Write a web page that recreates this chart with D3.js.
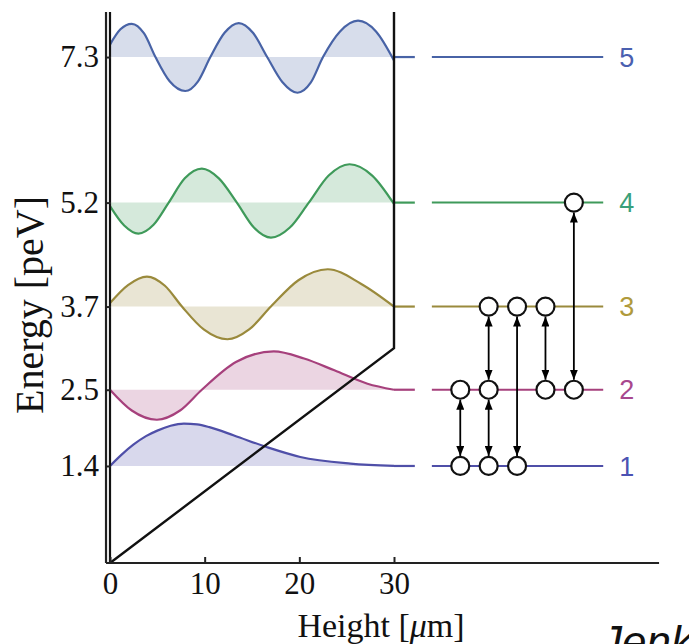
<!DOCTYPE html>
<html>
<head>
<meta charset="utf-8">
<script src="https://cdn.jsdelivr.net/npm/d3@7"></script>
<style>
  body { margin: 0; background: #fff; }
  .serif text, text.serif { font-family: "Liberation Serif", "Times New Roman", serif; }
</style>
</head>
<body>
<div id="chart"></div>
<script>
var width = 689
var height = 644

// energy levels [peV]
var levels = [1.4, 2.5, 3.7, 5.2, 7.3]
var levelLabels = ['1', '2', '3', '4', '5']

// wavefunction samples: [height in um, offset from level in peV]
var wave1 = [[0, 0], [1.2, 0.16], [2.5, 0.31], [3.8, 0.43], [5, 0.51], [6.4, 0.58], [7.8, 0.612], [9.2, 0.6], [10.5, 0.56], [13.1, 0.44], [16.6, 0.27], [20.1, 0.13], [25.4, 0.035], [30, 0]]
var wave2 = [[0, 0], [2.3, -0.3], [4.95, -0.433], [7.4, -0.3], [9.7, 0], [13.3, 0.4], [17.3, 0.553], [20.5, 0.45], [23.7, 0.28], [27.2, 0.087], [30, 0]]
var wave3 = [[0, 0.05], [1.9, 0.31], [3.9, 0.433], [5.8, 0.3], [7.6, 0], [9.9, -0.33], [12.4, -0.472], [14.7, -0.33], [17, 0], [19.9, 0.38], [23, 0.538], [26.5, 0.33], [30, 0]]
var wave4 = [[0, -0.05], [1.5, -0.33], [3, -0.447], [4.6, -0.32], [6.2, 0], [7.9, 0.35], [9.7, 0.49], [11.5, 0.35], [13.4, 0], [15.2, -0.36], [17, -0.505], [19, -0.36], [21, 0], [23.1, 0.39], [25.3, 0.553], [27.7, 0.39], [30, -0.02]]
var wave5 = [[0, 0.18], [1.1, 0.4], [2.3, 0.48], [3.6, 0.34], [4.8, 0], [6.3, -0.35], [7.95, -0.49], [9.3, -0.35], [10.6, 0], [12.1, 0.35], [13.6, 0.49], [15.1, 0.35], [16.6, 0], [18.2, -0.36], [19.8, -0.515], [21.2, -0.37], [22.5, 0], [24.3, 0.37], [26.2, 0.525], [28.1, 0.37], [30, -0.05]]
var waves = [wave1, wave2, wave3, wave4, wave5]

var xTicks = [0, 10, 20, 30]

// potential: linear gravity + walls at 0 and 30 um
var potential = [[0, 0], [30, 3.1], [30, 7.95]]

// occupied states on the right: [column in um, level number]
var stateCircles = [[37, 1], [40, 1], [43, 1], [37, 2], [40, 2], [46, 2], [49, 2], [40, 3], [43, 3], [46, 3], [49, 4]]
// transitions: [column in um, lower level, upper level]
var transitions = [[37, 1, 2], [40, 1, 2], [40, 2, 3], [43, 1, 3], [46, 2, 3], [49, 2, 4]]

var colors = ['#4f4fa8', '#a6407c', '#9a8a3c', '#3f9a5a', '#4863a6']
var labelColors = ['#4b52b3', '#a8478e', '#b09a3c', '#3aa07a', '#4a60b0']

var svg = d3.select("#chart")
  .append("svg")
  .attr("width", width)
  .attr("height", height)

var xScale = d3.scaleLinear()
  .domain([0, 30])
  .range([110, 394])

var yScale = d3.scaleLinear()
  .domain([0, 7.95])
  .range([563, 12])

var r = 9

// arrow head
svg.append("defs")
  .append("marker")
  .attr("id", "head")
  .attr("viewBox", "0 0 10 8")
  .attr("refX", 10)
  .attr("refY", 4)
  .attr("markerWidth", 10)
  .attr("markerHeight", 8)
  .attr("markerUnits", "userSpaceOnUse")
  .attr("orient", "auto-start-reverse")
  .append("path")
  .attr("d", "M0,0 L10,4 L0,8 Z")
  .style("fill", "black")

// Render wavefunction fills and curves
var wavesG = svg.append("g").attr("class", "waves")

waves.forEach(function(w, i) {
  var area = d3.area()
    .x(d => xScale(d[0]))
    .y0(yScale(levels[i]))
    .y1(d => yScale(levels[i] + d[1]))
    .curve(d3.curveMonotoneX)

  var line = d3.line()
    .x(d => xScale(d[0]))
    .y(d => yScale(levels[i] + d[1]))
    .curve(d3.curveMonotoneX)

  wavesG.append("path")
    .datum(w)
    .attr("d", area)
    .style("fill", colors[i])
    .style("opacity", 0.22)

  wavesG.append("path")
    .datum(w)
    .attr("d", line)
    .style("fill", "none")
    .style("stroke", colors[i])
    .style("stroke-width", 2.2)

  // short stub after the wall
  wavesG.append("line")
    .attr("x1", xScale(30))
    .attr("x2", xScale(32.2))
    .attr("y1", yScale(levels[i]))
    .attr("y2", yScale(levels[i]))
    .style("stroke", colors[i])
    .style("stroke-width", 2.2)

  // level line on the right
  wavesG.append("line")
    .attr("x1", xScale(34))
    .attr("x2", xScale(52.1))
    .attr("y1", yScale(levels[i]))
    .attr("y2", yScale(levels[i]))
    .style("stroke", colors[i])
    .style("stroke-width", 2)

  wavesG.append("text")
    .attr("x", xScale(54.6))
    .attr("y", yScale(levels[i]))
    .attr("dy", "0.36em")
    .attr("text-anchor", "middle")
    .style("font-family", "'Liberation Sans', Arial, sans-serif")
    .style("font-size", "27px")
    .style("fill", labelColors[i])
    .text(levelLabels[i])
})

// Render potential
svg.append("path")
  .datum(potential)
  .attr("d", d3.line().x(d => xScale(d[0])).y(d => yScale(d[1])))
  .style("fill", "none")
  .style("stroke", "#111")
  .style("stroke-width", 2.4)

// wall at zero height
svg.append("line")
  .attr("x1", xScale(0))
  .attr("x2", xScale(0))
  .attr("y1", yScale(0))
  .attr("y2", yScale(7.95))
  .style("stroke", "#111")
  .style("stroke-width", 2.2)

// Render X axis
var xAxis = d3.axisBottom(xScale)
  .tickValues(xTicks)
  .tickSize(-6)
  .tickSizeOuter(0)
  .tickPadding(9)

var xG = svg.append("g")
  .attr("class", "x-axis serif")
  .attr("transform", `translate(0,${yScale(0)})`)
  .call(xAxis)

xG.select(".domain").remove()
xG.selectAll(".tick line").style("stroke", "#222").style("stroke-width", 2)
xG.selectAll(".tick text")
  .style("font-size", "31px")
  .style("fill", "#111")

svg.append("line")
  .attr("x1", xScale(-0.42))
  .attr("x2", xScale(58))
  .attr("y1", yScale(0))
  .attr("y2", yScale(0))
  .style("stroke", "#222")
  .style("stroke-width", 2.2)

// Render Y axis
var yAxis = d3.axisLeft(yScale)
  .tickValues(levels)
  .tickSize(-5)
  .tickSizeOuter(0)
  .tickPadding(7)
  .tickFormat(d3.format(".1f"))

var yG = svg.append("g")
  .attr("class", "y-axis serif")
  .attr("transform", `translate(${xScale(-0.42)},0)`)
  .call(yAxis)

yG.select(".domain").remove()
yG.selectAll(".tick line").style("stroke", "#222").style("stroke-width", 2)
yG.selectAll(".tick text")
  .style("font-size", "31px")
  .style("fill", "#111")

svg.append("line")
  .attr("x1", xScale(-0.42))
  .attr("x2", xScale(-0.42))
  .attr("y1", yScale(0))
  .attr("y2", yScale(7.95))
  .style("stroke", "#222")
  .style("stroke-width", 2.2)

// Axis labels
svg.append("text")
  .attr("class", "serif")
  .attr("text-anchor", "middle")
  .attr("transform", `translate(43,305) rotate(-90)`)
  .style("font-size", "40px")
  .style("fill", "#111")
  .text("Energy [peV]")

var xLabel = svg.append("text")
  .attr("class", "serif")
  .attr("text-anchor", "middle")
  .attr("x", 381)
  .attr("y", 637)
  .style("font-size", "34px")
  .style("fill", "#111")

xLabel.append("tspan").text("Height [")
xLabel.append("tspan").style("font-style", "italic").text("μ")
xLabel.append("tspan").text("m]")

// Transitions between states
svg.append("g")
  .selectAll("line")
  .data(transitions)
  .enter()
  .append("line")
  .attr("x1", d => xScale(d[0]))
  .attr("x2", d => xScale(d[0]))
  .attr("y1", d => yScale(levels[d[1] - 1]) - r - 1)
  .attr("y2", d => yScale(levels[d[2] - 1]) + r + 1)
  .attr("marker-start", "url(#head)")
  .attr("marker-end", "url(#head)")
  .style("stroke", "black")
  .style("stroke-width", 1.8)

// States
svg.append("g")
  .selectAll("circle")
  .data(stateCircles)
  .enter()
  .append("circle")
  .attr("cx", d => xScale(d[0]))
  .attr("cy", d => yScale(levels[d[1] - 1]))
  .attr("r", r)
  .style("fill", "white")
  .style("stroke", "#111")
  .style("stroke-width", 2.2)

// cropped citation at the bottom right
svg.append("text")
  .attr("x", 600)
  .attr("y", 657)
  .style("font-family", "'Liberation Sans', Arial, sans-serif")
  .style("font-style", "italic")
  .style("font-size", "44px")
  .style("fill", "#111")
  .text("Jenke et al.")
</script>
</body>
</html>
